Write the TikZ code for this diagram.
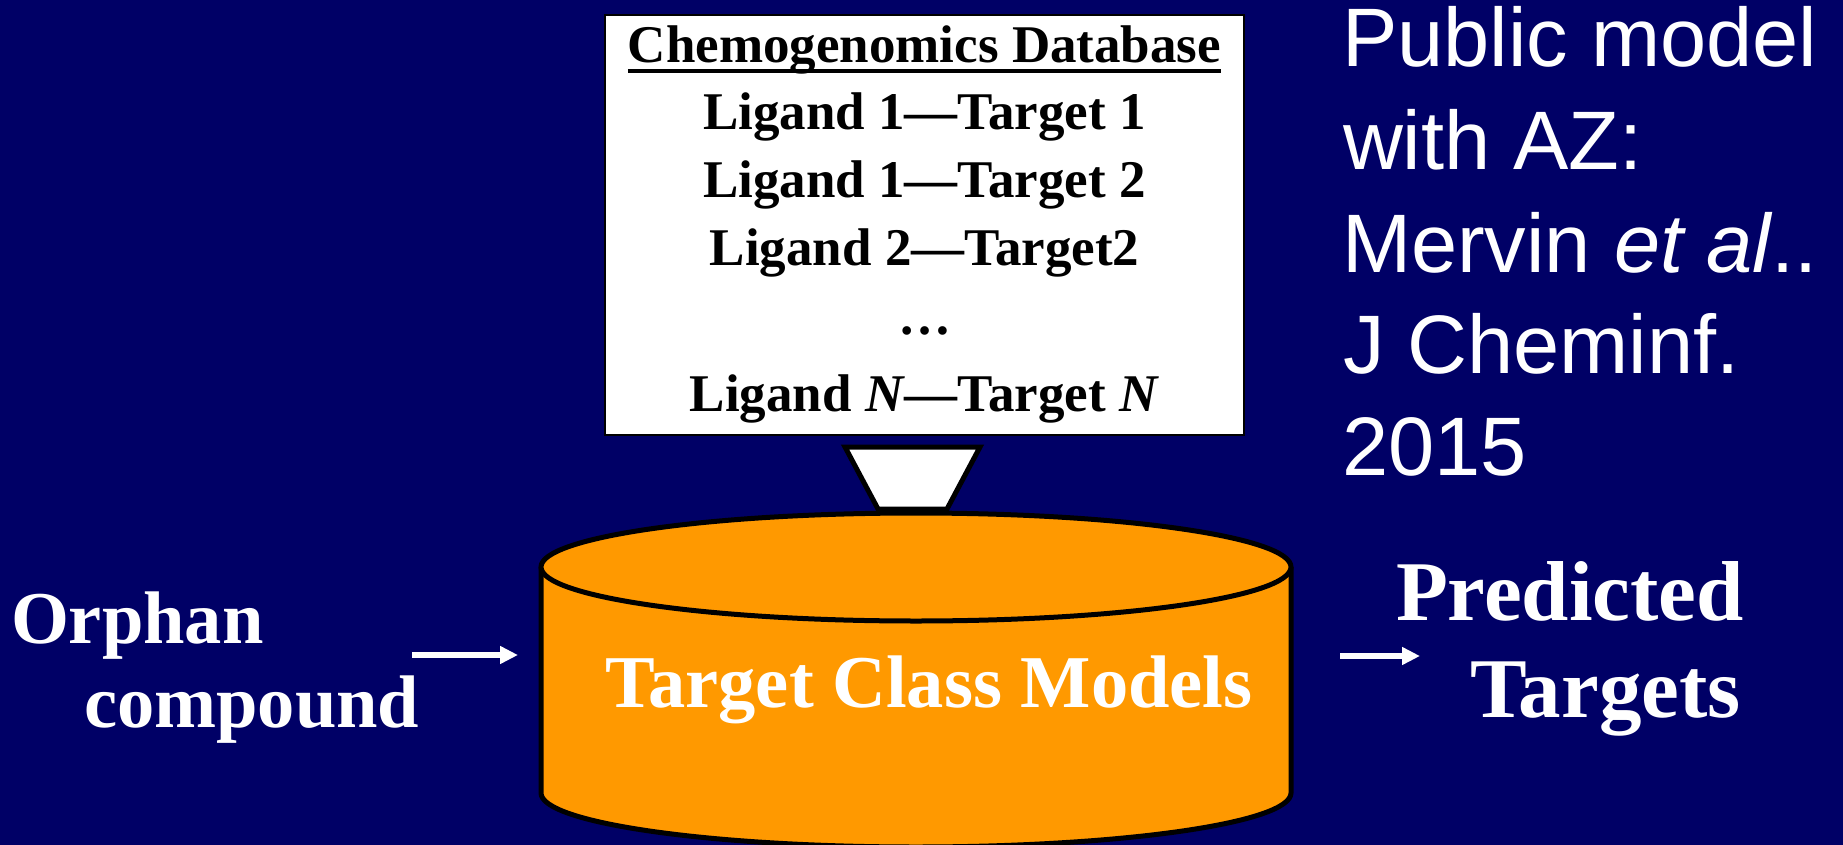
\documentclass[tikz,border=0pt]{standalone}
\usepackage{fontspec}
\setmainfont{Liberation Serif}
\newfontfamily\arialfont{Liberation Sans}
\usetikzlibrary{arrows.meta}
\definecolor{navy}{RGB}{0,0,102}
\definecolor{amber}{RGB}{255,153,0}
\begin{document}
\begin{tikzpicture}[x=1pt,y=-1pt,
  txt/.style={inner sep=0pt, outer sep=0pt, anchor=base},
  dbtext/.style={txt, text=black, font=\bfseries\fontsize{53}{60}\selectfont},
  whitebold/.style={txt, text=white, font=\bfseries\fontsize{74.5}{80}\selectfont},
  bigbold/.style={txt, anchor=base west, text=white, font=\bfseries\fontsize{85}{90}\selectfont},
  refline/.style={txt, anchor=base west, text=white, font=\arialfont\fontsize{83}{100}\selectfont},
  flow/.style={draw=white, line width=6pt, -{Triangle[length=18pt,width=17pt]}},
  outline/.style={draw=black, line width=5pt},
]
% background
\fill[navy] (0,0) rectangle (1843,845);
\useasboundingbox (0,0) rectangle (1843,845);

% database listing
\node[draw=black, line width=2.5pt, fill=white, minimum width=639pt, minimum height=420pt, inner sep=0pt] (db) at (924.5,225) {};
\node[dbtext] (title) at (924.5,63) {Chemogenomics Database};
\draw[line width=3.5pt] ([yshift=-8pt]title.base west) -- ([yshift=-8pt]title.base east);
\node[dbtext] (pair1) at (924.5,130) {Ligand 1—Target 1};
\node[dbtext] (pair2) at (924.5,197) {Ligand 1—Target 2};
\node[dbtext] (pair3) at (924.5,265) {Ligand 2—Target2};
\node[dbtext] (dots)  at (924.5,334) {…};
\node[dbtext] (pairN) at (924.5,411) {Ligand \textit{N}—Target \textit{N}};

% funnel into the model store
\filldraw[fill=white, outline, line join=miter] (845,447) -- (980,447) -- (947,509) -- (878,509) -- cycle;

% cylinder of target class models
\filldraw[fill=amber, outline] (541,567) -- (541,793)
  arc[start angle=180, end angle=360, x radius=375pt, y radius=54pt] -- (1291,567);
\filldraw[fill=amber, outline] (916,567) ellipse[x radius=375pt, y radius=54pt];
\node[whitebold] (models) at (929,707) {Target Class Models};

% input side
\node[whitebold, anchor=base west] (orphan1) at (11,643) {Orphan};
\node[whitebold, anchor=base west] (orphan2) at (84,727) {compound};
\coordinate (inA) at (412,655);
\coordinate (inB) at (518,655);
\draw[flow] (inA) -- (inB);

% output side
\coordinate (outA) at (1340,656);
\coordinate (outB) at (1420,656);
\draw[flow] (outA) -- (outB);
\node[bigbold] (pred1) at (1396,620) {Predicted};
\node[bigbold] (pred2) at (1470,717) {Targets};

% reference
\node[refline] (ref1) at (1342,67)  {Public model};
\node[refline] (ref2) at (1343,170) {with AZ:};
\node[refline] (ref3) at (1342,272) {Mervin \textit{et al}..};
\node[refline] (ref4) at (1343,373) {J Cheminf.};
\node[refline] (ref5) at (1342,475) {2015};
\end{tikzpicture}
\end{document}
